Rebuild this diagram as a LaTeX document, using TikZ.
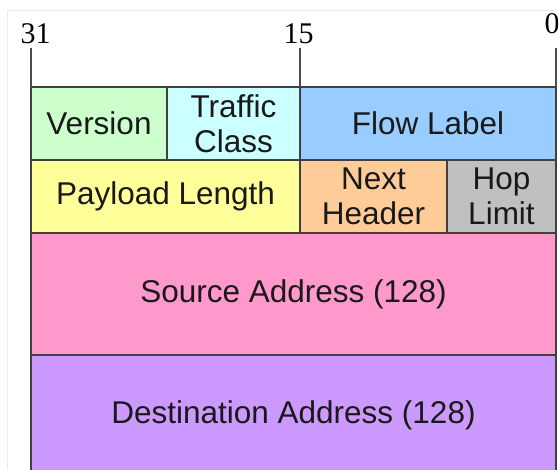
\documentclass[tikz,border=0pt]{standalone}
\usepackage{fontspec}
\setmainfont{Liberation Sans}
\newfontfamily\bitfont{Liberation Serif}
\usepackage{tikz}
\usetikzlibrary{positioning}

\definecolor{vercol}{HTML}{CCFFCC}
\definecolor{tccol}{HTML}{CCFFFF}
\definecolor{flcol}{HTML}{99CCFF}
\definecolor{plcol}{HTML}{FFFF99}
\definecolor{nhcol}{HTML}{FFCC99}
\definecolor{hlcol}{HTML}{C0C0C0}
\definecolor{srccol}{HTML}{FF99CC}
\definecolor{dstcol}{HTML}{CC99FF}

\begin{document}
\begin{tikzpicture}[x=1pt, y=1pt,
    field/.style={draw=black!75, line width=1.6pt, anchor=north west,
      inner sep=0pt, outer sep=0pt, align=center, text=black!90,
      font=\fontsize{31.5}{35}\selectfont},
    bitlabel/.style={anchor=base, inner sep=0pt, font=\bitfont\fontsize{30}{34}\selectfont}]
    \clip (0,0) rectangle (558,-470);
    \draw[black!7] (7,-10) rectangle (600,-520);

    \node[field, fill=vercol, minimum width=136, minimum height=73] (ver) at (31,-87) {Version};
    \node[field, fill=tccol, minimum width=133, minimum height=73] (tc) at (167,-87) {Traffic\\Class};
    \node[field, fill=flcol, minimum width=256, minimum height=73] (fl) at (300,-87) {Flow Label};
    \node[field, fill=plcol, minimum width=269, minimum height=73] (pl) at (31,-160) {Payload Length};
    \node[field, fill=nhcol, minimum width=147, minimum height=73] (nh) at (300,-160) {Next\\Header};
    \node[field, fill=hlcol, minimum width=109, minimum height=73] (hl) at (447,-160) {Hop\\Limit};
    \node[field, fill=srccol, minimum width=525, minimum height=122] (src) at (31,-233) {Source Address (128)};
    \node[field, fill=dstcol, minimum width=525, minimum height=120] (dst) at (31,-355) {Destination Address (128)};

    \coordinate (t31) at (31,-48);
    \coordinate (t15) at (300,-48);
    \coordinate (t0) at (556,-48);
    \draw[black!70, line width=1.3pt] (t31) -- (ver.north west);
    \draw[black!70, line width=1.3pt] (t15) -- (fl.north west);
    \draw[black!70, line width=1.3pt] (t0) -- (fl.north east);

    \node[bitlabel] (b31) at (35.5,-44) {31};
    \node[bitlabel] (b15) at (298.5,-44) {15};
    \node[bitlabel] (b0) at (552,-34) {0};
\end{tikzpicture}
\end{document}
